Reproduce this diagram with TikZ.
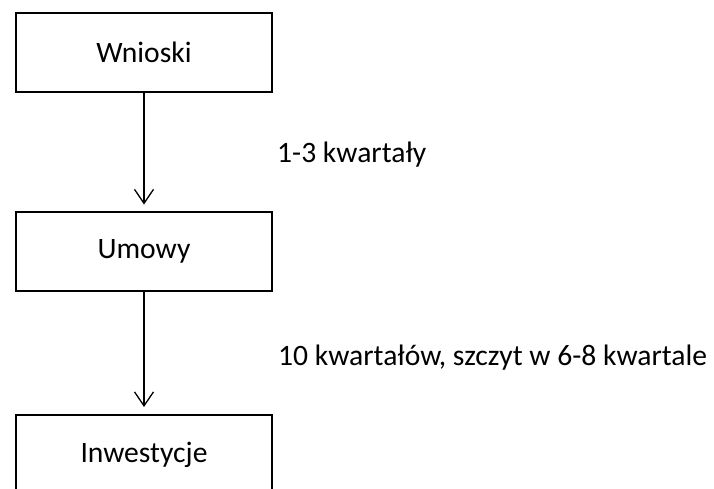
\documentclass[tikz,border=0pt]{standalone}
\usepackage{fontspec}
\setmainfont{Carlito}
\usetikzlibrary{arrows.meta}
\begin{document}
\begin{tikzpicture}[x=1pt,y=1pt,
  boxnode/.style={draw, line width=2pt, minimum width=256pt, minimum height=79pt, inner sep=0pt, font=\fontsize{29.6}{34}\selectfont},
  lbl/.style={anchor=base west, inner sep=0pt, font=\fontsize{29.6}{34}\selectfont},
  conn/.style={line width=1.3pt, -{Straight Barb[length=14pt,width=19pt,line width=1.3pt]}}]
\useasboundingbox (0,0) rectangle (714,-488);
\clip (0,0) rectangle (714,-488);
\fill[white] (0,0) rectangle (714,-488);
\node[boxnode] (w) at (144,-52) {Wnioski};
\node[boxnode] (u) at (144,-251) {Umowy};
\node[boxnode] (i) at (144,-454.5) {Inwestycje};
\draw[conn] (w.south) -- ([yshift=6pt]u.north);
\draw[conn] (u.south) -- ([yshift=7pt]i.north);
\node[lbl] (l1) at (277,-162) {1-3 kwartały};
\node[lbl] (l2) at (278,-365) {10 kwartałów, szczyt w 6-8 kwartale};
\end{tikzpicture}
\end{document}
